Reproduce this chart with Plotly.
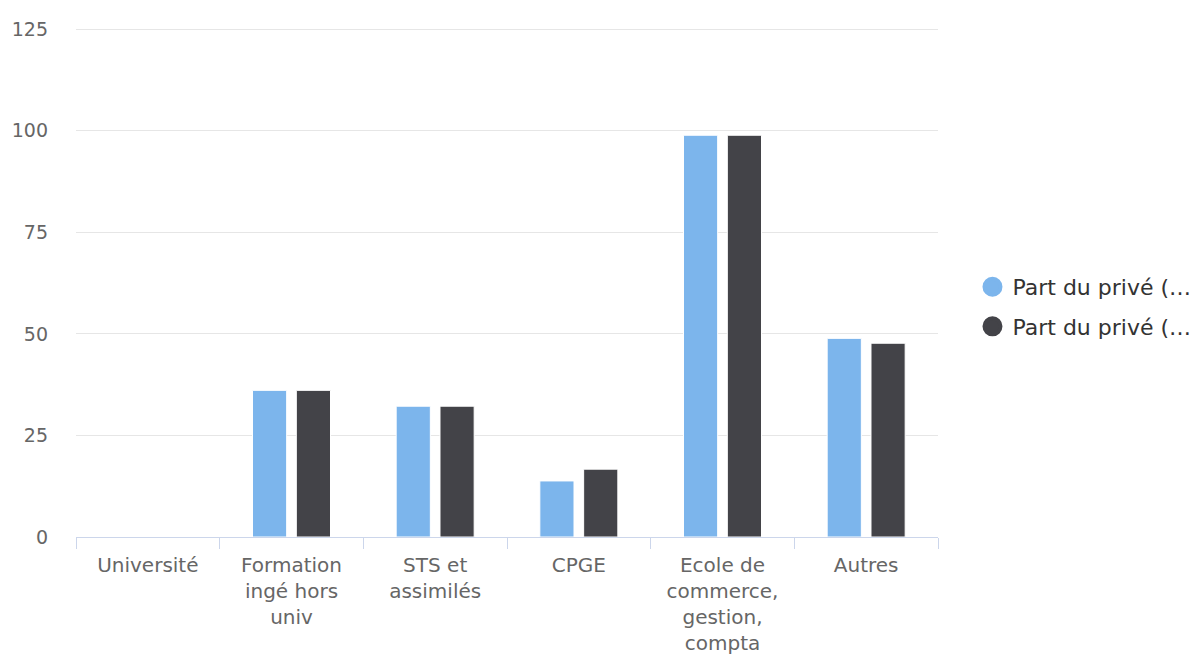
import plotly.graph_objects as go

categories = ["Université", "Formation<br>ingé hors<br>univ", "STS et<br>assimilés", "CPGE",
              "Ecole de<br>commerce,<br>gestion,<br>compta", "Autres"]
serie1_name = "Part du privé (…"
serie2_name = "Part du privé (…"
serie1 = [0, 36.1, 32.2, 13.8, 98.9, 48.9]
serie2 = [0, 36.1, 32.2, 16.7, 98.9, 47.7]
y_ticks = [0, 25, 50, 75, 100, 125]

c1 = "#7cb5ec"
c2 = "#434348"
font = "DejaVu Sans"

fig = go.Figure()
fig.add_trace(go.Bar(x=categories, y=serie1, name=serie1_name, marker=dict(color=c1, line=dict(color="white", width=1)), showlegend=False))
fig.add_trace(go.Bar(x=categories, y=serie2, name=serie2_name, marker=dict(color=c2, line=dict(color="white", width=1)), showlegend=False))
# legend entries with circular symbols
fig.add_trace(go.Scatter(x=[categories[0]], y=[None], mode="markers", name=serie1_name, legendgroup="a",
                         marker=dict(color=c1, size=16, symbol="circle", line=dict(color=c1, width=4)), hoverinfo="skip"))
fig.add_trace(go.Scatter(x=[categories[0]], y=[None], mode="markers", name=serie2_name, legendgroup="b",
                         marker=dict(color=c2, size=16, symbol="circle", line=dict(color=c2, width=4)), hoverinfo="skip"))

fig.update_layout(
    width=1200, height=654,
    margin=dict(l=68, r=268, t=20, b=125),
    plot_bgcolor="white", paper_bgcolor="white",
    barmode="group", bargap=0.39, bargroupgap=0.22,
    font=dict(family=font, size=20, color="#666666"),
    legend=dict(x=1.04, y=0.452, xanchor="left", yanchor="middle",
                font=dict(family=font, size=22, color="#333333"),
                itemsizing="trace", traceorder="grouped", tracegroupgap=8),
    showlegend=True,
)
fig.update_xaxes(
    type="category", showline=True, linecolor="#ccd6eb", linewidth=1,
    ticks="outside", tickson="boundaries", ticklen=11, tickcolor="#ccd6eb",
    showgrid=False, tickfont=dict(family=font, size=20, color="#666666"),
    ticklabelstandoff=10, automargin=False,
)
fig.update_yaxes(
    range=[0, 125.3], tickvals=y_ticks, showgrid=True, gridcolor="#e6e6e6", gridwidth=1,
    zeroline=False, showline=False, ticklabelstandoff=27, automargin=False,
    tickfont=dict(family=font, size=19, color="#666666"),
)
fig.write_html("out.html")
